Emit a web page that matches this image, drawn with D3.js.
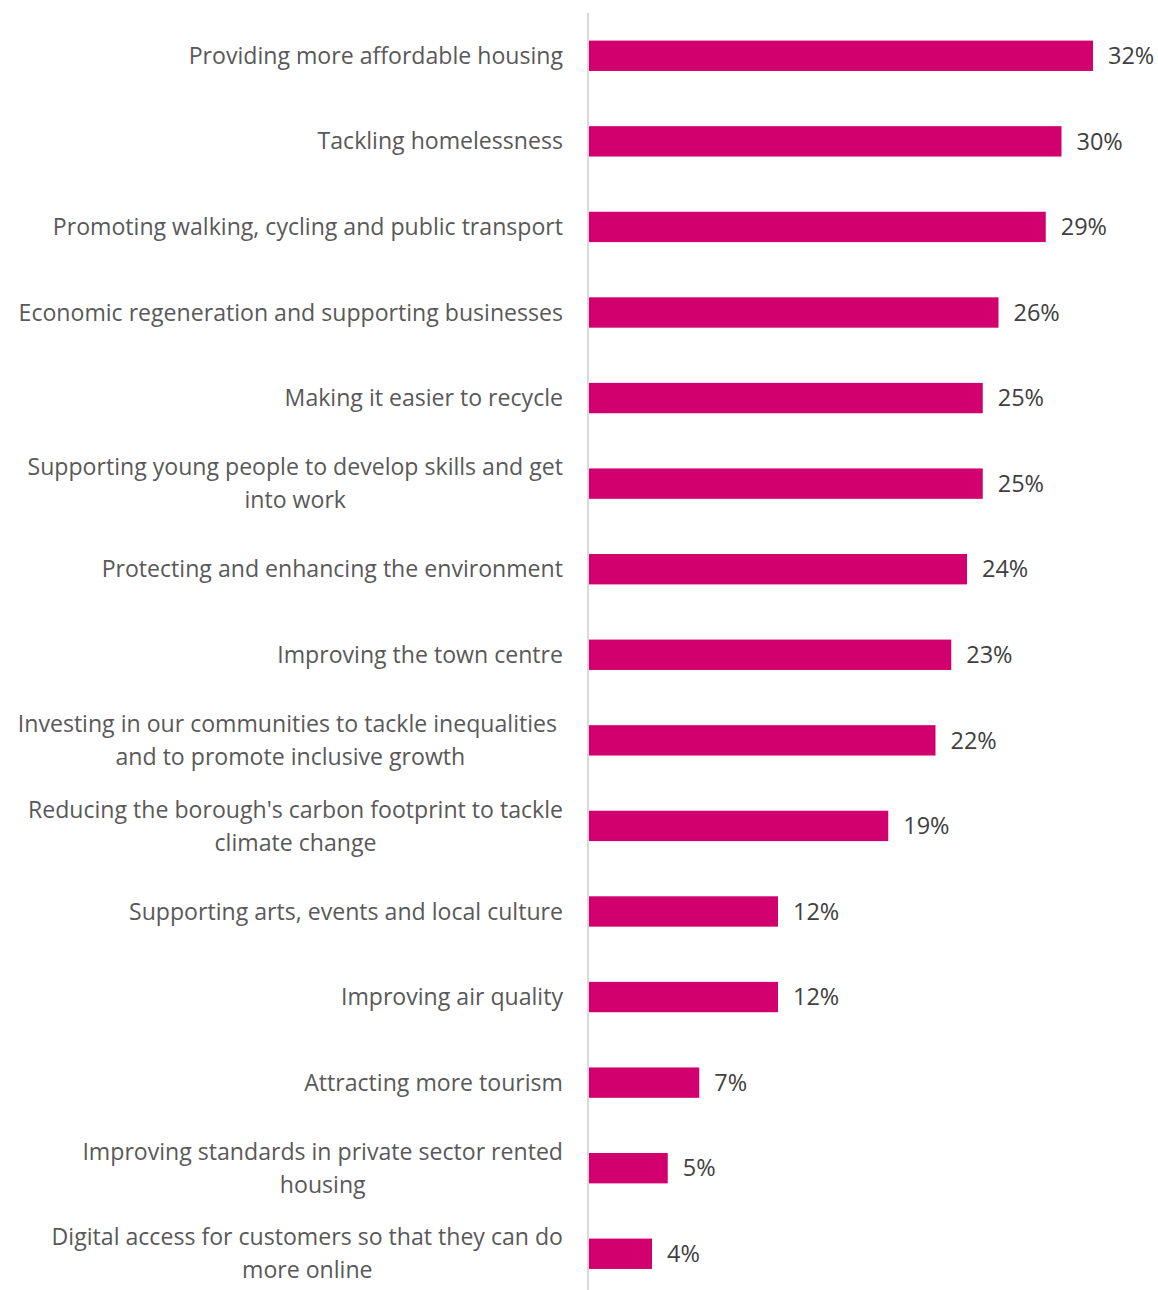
<!DOCTYPE html>
<html>
<head>
<meta charset="utf-8">
<script src="https://cdn.jsdelivr.net/npm/d3@7"></script>
<style>
  html, body { margin: 0; padding: 0; background: #fff; }
  svg { display: block; }
</style>
</head>
<body>
<svg id="chart" width="1158" height="1290"></svg>
<script>
// Priorities, each label split into its display lines
const categories = [
  ["Providing more affordable housing"],
  ["Tackling homelessness"],
  ["Promoting walking, cycling and public transport"],
  ["Economic regeneration and supporting businesses"],
  ["Making it easier to recycle"],
  ["Supporting young people to develop skills and get", "into work"],
  ["Protecting and enhancing the environment"],
  ["Improving the town centre"],
  ["Investing in our communities to tackle inequalities ", "and to promote inclusive growth"],
  ["Reducing the borough's carbon footprint to tackle", "climate change"],
  ["Supporting arts, events and local culture"],
  ["Improving air quality"],
  ["Attracting more tourism"],
  ["Improving standards in private sector rented", "housing"],
  ["Digital access for customers so that they can do", "more online"]
];
const values = [32, 30, 29, 26, 25, 25, 24, 23, 22, 19, 12, 12, 7, 5, 4];
const valueLabels = ["32%", "30%", "29%", "26%", "25%", "25%", "24%", "23%", "22%", "19%", "12%", "12%", "7%", "5%", "4%"];

const svg = d3.select("#chart");
const font = "'Open Sans', 'Noto Sans', sans-serif";
const fontSize = 23.1;
const valueFontSize = 23.5;
const axisX = 589;
const labelRight = 563;

const x = d3.scaleLinear().domain([0, 32]).range([axisX, 1093]);
const y = d3.scaleBand()
  .domain(d3.range(values.length))
  .range([13, 13 + 85.57 * values.length])
  .paddingInner(0.645)
  .paddingOuter(0.3225);

// bars
svg.append("g").selectAll("rect")
  .data(values)
  .join("rect")
  .attr("x", x(0))
  .attr("y", (d, i) => y(i))
  .attr("width", d => x(d) - x(0))
  .attr("height", y.bandwidth())
  .attr("fill", "#D2006F");

// vertical category axis line
svg.append("line")
  .attr("x1", axisX - 1).attr("x2", axisX - 1)
  .attr("y1", 13).attr("y2", 1290)
  .attr("stroke", "#d9d9d9")
  .attr("stroke-width", 2);

// value labels
svg.append("g").selectAll("text")
  .data(values)
  .join("text")
  .attr("x", d => x(d) + 15)
  .attr("y", (d, i) => y(i) + y.bandwidth() / 2)
  .attr("dy", "0.35em")
  .attr("font-family", font)
  .attr("font-size", valueFontSize)
  .attr("fill", "#404040")
  .text((d, i) => valueLabels[i]);

// category labels: each block is right-aligned, its lines centred within it
const lineGap = 33;
categories.forEach((lines, i) => {
  const cy = y(i) + y.bandwidth() / 2;
  const g = svg.append("g");
  const texts = lines.map((ln, j) => g.append("text")
    .attr("y", cy + (j - (lines.length - 1) / 2) * lineGap)
    .attr("dy", "0.35em")
    .attr("font-family", font)
    .attr("font-size", fontSize)
    .attr("fill", "#595959")
    .attr("text-anchor", "middle")
    .style("white-space", "pre")
    .text(ln));
  const w = d3.max(texts, t => t.node().getComputedTextLength());
  texts.forEach(t => t.attr("x", labelRight - w / 2));
});
</script>
</body>
</html>
